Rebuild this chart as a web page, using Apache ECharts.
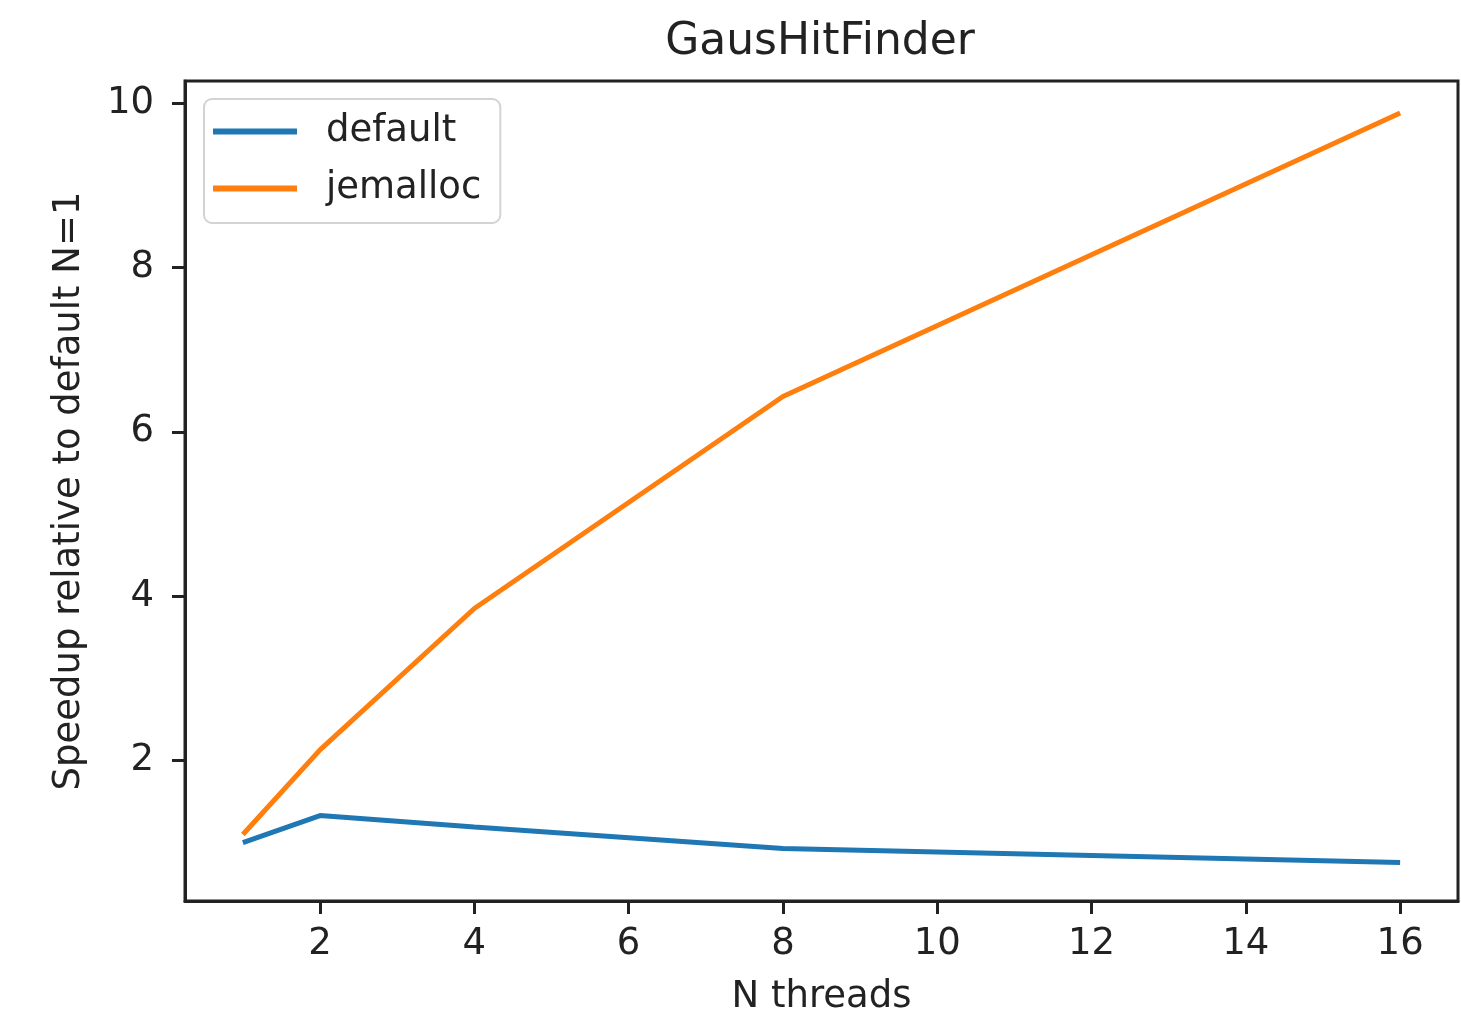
<!DOCTYPE html>
<html>
<head>
<meta charset="utf-8">
<title>GausHitFinder</title>
<script src="https://cdn.jsdelivr.net/npm/echarts@6/dist/echarts.min.js"></script>
<style>
  html, body { margin: 0; padding: 0; background: #fff; }
  #chart { width: 1461px; height: 1021px; }
</style>
</head>
<body>
<div id="chart"></div>
<script>
// threads used in each run
var nThreads = [1, 2, 4, 8, 16];
// speedup relative to default N=1
var defaultSpeedup = [1.0, 1.33, 1.19, 0.93, 0.76];
var jemallocSpeedup = [1.10, 2.13, 3.85, 6.43, 9.88];
// tick labels
var xTicks = [2, 4, 6, 8, 10, 12, 14, 16];
var yTicks = [2, 4, 6, 8, 10];

var font = 'DejaVu Sans';
var ink = '#222';

function pairs(ys) {
    return nThreads.map(function (x, i) { return [x, ys[i]]; });
}

var option = {
    animation: false,
    backgroundColor: '#fff',
    title: {
        text: 'GausHitFinder',
        left: 815,
        top: 16,
        textAlign: 'center',
        textStyle: { fontFamily: font, fontSize: 44, fontWeight: 'normal', color: ink }
    },
    legend: {
        orient: 'vertical',
        left: 204,
        top: 99,
        padding: [14, 19, 16, 9],
        itemWidth: 84,
        itemHeight: 6,
        itemGap: 20,
        icon: 'rect',
        borderColor: '#d3d3d3',
        borderWidth: 2,
        borderRadius: 8,
        backgroundColor: 'rgba(255,255,255,0.8)',
        textStyle: { fontFamily: font, fontSize: 37, color: ink, padding: [0, 0, 0, 24] },
        data: ['default', 'jemalloc']
    },
    grid: {
        left: 185,
        top: 81,
        right: 3,
        bottom: 117,
        show: true,
        borderColor: ink,
        borderWidth: 3,
        containLabel: false
    },
    xAxis: {
        type: 'value',
        min: 0.25,
        max: 16.75,
        name: 'N threads',
        nameLocation: 'middle',
        nameGap: 78,
        nameTextStyle: { fontFamily: font, fontSize: 37, color: ink },
        axisLine: { show: true, lineStyle: { color: ink, width: 3 } },
        axisTick: { show: true, inside: false, length: 13, customValues: xTicks, lineStyle: { color: ink, width: 3 } },
        axisLabel: { customValues: xTicks, margin: 25, fontFamily: font, fontSize: 37, color: ink },
        splitLine: { show: false }
    },
    yAxis: {
        type: 'value',
        min: 0.29,
        max: 10.27,
        name: 'Speedup relative to default N=1',
        nameLocation: 'middle',
        nameGap: 97,
        nameTextStyle: { fontFamily: font, fontSize: 37, color: ink },
        axisLine: { show: true, lineStyle: { color: ink, width: 3 } },
        axisTick: { show: true, inside: false, length: 13, customValues: yTicks, lineStyle: { color: ink, width: 3 } },
        axisLabel: { customValues: yTicks, margin: 31, fontFamily: font, fontSize: 37, color: ink },
        splitLine: { show: false }
    },
    series: [
        {
            name: 'default',
            type: 'line',
            data: pairs(defaultSpeedup),
            symbol: 'none',
            showSymbol: false,
            color: '#1f77b4',
            lineStyle: { width: 5, color: '#1f77b4' }
        },
        {
            name: 'jemalloc',
            type: 'line',
            data: pairs(jemallocSpeedup),
            symbol: 'none',
            showSymbol: false,
            color: '#ff7f0e',
            lineStyle: { width: 5, color: '#ff7f0e' }
        }
    ]
};

var chart = echarts.init(document.getElementById('chart'));
chart.setOption(option);
</script>
</body>
</html>
